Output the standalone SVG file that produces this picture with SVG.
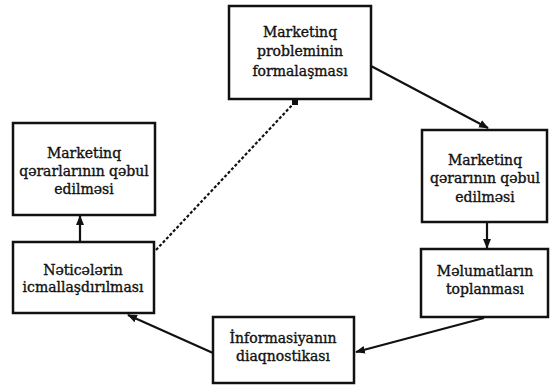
<svg xmlns="http://www.w3.org/2000/svg" width="553" height="386" viewBox="0 0 553 386">
<defs>
<marker id="ah" viewBox="0 0 10 10" refX="9" refY="5" markerWidth="4.5" markerHeight="4.5" orient="auto" markerUnits="strokeWidth">
<path d="M0,1 L10,5 L0,9 z" fill="#111"/>
</marker>
<marker id="sq" viewBox="0 0 10 10" refX="5" refY="5" markerWidth="3" markerHeight="3" orient="0" markerUnits="strokeWidth">
<rect x="0" y="0" width="10" height="10" fill="#111"/>
</marker>
<style>
.box{fill:#fff;stroke:#111;stroke-width:2.5}
.t{font-family:"DejaVu Serif","Liberation Serif",serif;font-size:14px;fill:#111;stroke:#111;stroke-width:0.35;text-anchor:middle}
.c{stroke:#111;stroke-width:2.2;fill:none}
.d{stroke:#111;stroke-width:2.2;fill:none;stroke-dasharray:3,2}
</style>
</defs>
<rect width="553" height="386" fill="#fff"/>
<g id="connectors">
<line class="c" x1="371" y1="66" x2="488" y2="128" marker-end="url(#ah)"/>
<line class="c" x1="487" y1="222" x2="487" y2="248" marker-end="url(#ah)"/>
<line class="c" x1="484" y1="318" x2="356" y2="352" marker-end="url(#ah)"/>
<line class="c" x1="213" y1="353" x2="128" y2="315" marker-end="url(#ah)"/>
<line class="c" x1="80" y1="242" x2="80" y2="216" marker-end="url(#ah)"/>
<line class="d" x1="156" y1="250" x2="295" y2="102" marker-end="url(#sq)"/>
</g>
<g id="n1">
<rect class="box" x="229" y="6" width="142" height="93"/>
<text class="t" x="300" y="37">Marketinq</text>
<text class="t" x="300" y="56">probleminin</text>
<text class="t" x="300" y="76">formalaşması</text>
</g>
<g id="n2">
<rect class="box" x="422" y="130" width="125" height="92"/>
<text class="t" x="485" y="165">Marketinq</text>
<text class="t" x="485" y="183">qərarının qəbul</text>
<text class="t" x="485" y="202">edilməsi</text>
</g>
<g id="n3">
<rect class="box" x="421" y="249" width="127" height="68"/>
<text class="t" x="485" y="276">Məlumatların</text>
<text class="t" x="485" y="294">toplanması</text>
</g>
<g id="n4">
<rect class="box" x="213" y="317" width="141" height="66"/>
<text class="t" x="283" y="343">İnformasiyanın</text>
<text class="t" x="283" y="361">diaqnostikası</text>
</g>
<g id="n5">
<rect class="box" x="13" y="242" width="141" height="71"/>
<text class="t" x="83" y="275">Nəticələrin</text>
<text class="t" x="83" y="292">icmallaşdırılması</text>
</g>
<g id="n6">
<rect class="box" x="13" y="123" width="142" height="92"/>
<text class="t" x="84" y="158">Marketinq</text>
<text class="t" x="84" y="176">qərarlarının qəbul</text>
<text class="t" x="84" y="194">edilməsi</text>
</g>
</svg>
